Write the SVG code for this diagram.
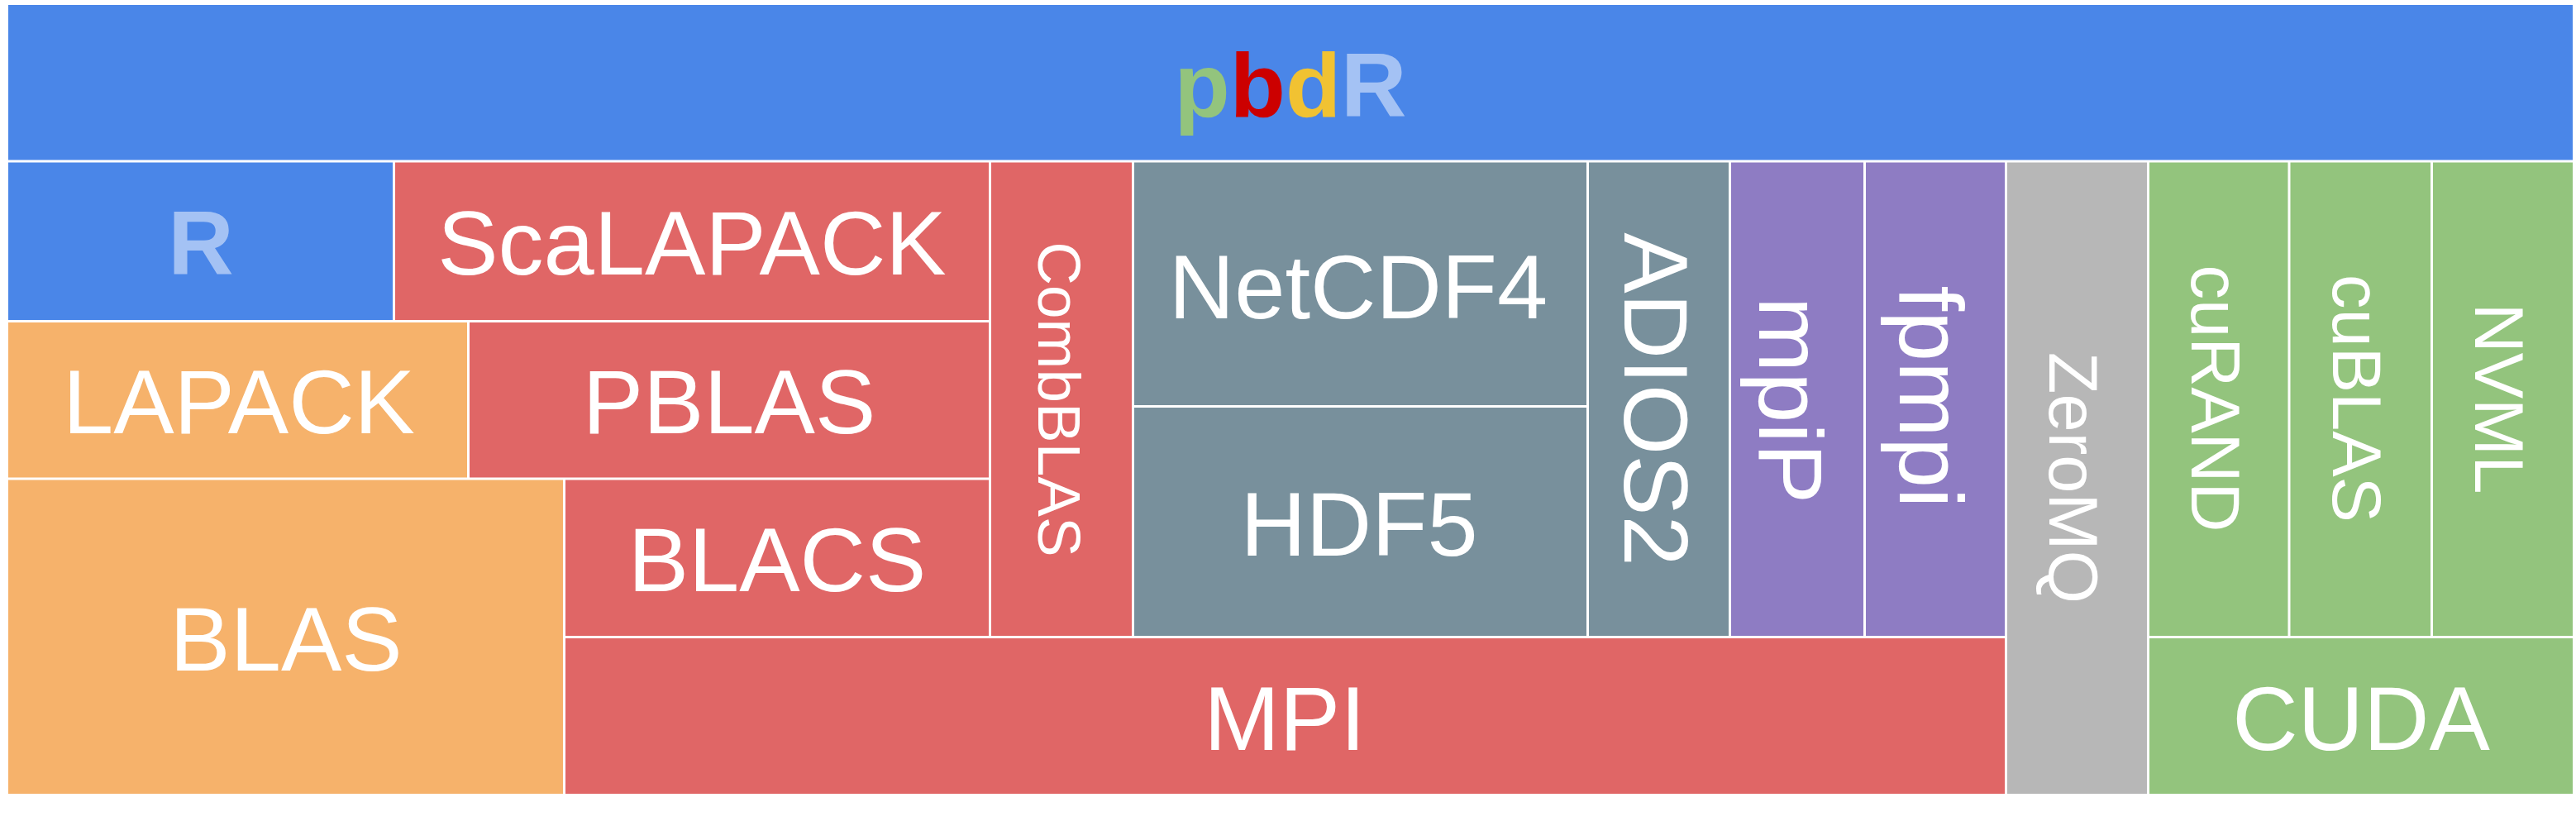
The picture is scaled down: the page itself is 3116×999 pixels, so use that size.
<svg xmlns="http://www.w3.org/2000/svg" width="3116" height="999" viewBox="0 0 3116 999">
<style>
  .blue{fill:#4A86E8}
  .red{fill:#E06666}
  .orange{fill:#F6B26B}
  .slate{fill:#78909C}
  .purple{fill:#8E7CC3}
  .gray{fill:#B7B7B7}
  .green{fill:#93C47D}
  text{font-family:"Liberation Sans",Arial,sans-serif;fill:#FFFFFF;text-anchor:middle}
  .big{font-size:110px}
  .bold{font-weight:bold}
</style>
<rect x="0" y="0" width="3116" height="999" fill="#FFFFFF"/>
<g id="pbdR">
  <rect class="blue" x="10" y="6" width="3102" height="187.5"/>
  <text class="big bold" x="1561" y="141"><tspan style="fill:#93C47D">p</tspan><tspan style="fill:#CC0000">b</tspan><tspan style="fill:#F1C232">d</tspan><tspan style="fill:#A4C2F4">R</tspan></text>
</g>
<g id="R">
  <rect class="blue" x="10" y="196.5" width="465" height="190.5"/>
  <text class="big bold" x="243" y="331.5" style="fill:#A4C2F4">R</text>
</g>
<g id="ScaLAPACK">
  <rect class="red" x="478" y="196.5" width="718" height="190.5"/>
  <text class="big" x="837" y="331.5">ScaLAPACK</text>
</g>
<g id="LAPACK">
  <rect class="orange" x="10" y="390" width="555" height="187.5"/>
  <text class="big" x="289" y="523.5">LAPACK</text>
</g>
<g id="PBLAS">
  <rect class="red" x="568" y="390" width="628" height="187.5"/>
  <text class="big" x="882" y="523.5">PBLAS</text>
</g>
<g id="BLAS">
  <rect class="orange" x="10" y="580.5" width="671" height="379.5"/>
  <text class="big" x="346" y="810.5">BLAS</text>
</g>
<g id="BLACS">
  <rect class="red" x="684" y="580.5" width="512" height="188.5"/>
  <text class="big" x="940" y="714.5">BLACS</text>
</g>
<g id="MPI">
  <rect class="red" x="684" y="772" width="1741" height="188"/>
  <text class="big" x="1554" y="906.5">MPI</text>
</g>
<g id="CombBLAS">
  <rect class="red" x="1199" y="196.5" width="170" height="572.5"/>
  <text x="0" y="28" font-size="73" transform="translate(1284,483) rotate(90)">CombBLAS</text>
</g>
<g id="NetCDF4">
  <rect class="slate" x="1372" y="196.5" width="547" height="293.5"/>
  <text class="big" x="1643" y="385">NetCDF4</text>
</g>
<g id="HDF5">
  <rect class="slate" x="1372" y="493" width="547" height="276"/>
  <text class="big" x="1644" y="671.5">HDF5</text>
</g>
<g id="ADIOS2">
  <rect class="slate" x="1922" y="196.5" width="169" height="572.5"/>
  <text class="big" x="0" y="42" transform="translate(2006.5,483) rotate(90)">ADIOS2</text>
</g>
<g id="mpiP">
  <rect class="purple" x="2094" y="196.5" width="160" height="572.5"/>
  <text class="big" x="0" y="46" transform="translate(2174,484) rotate(90)">mpiP</text>
</g>
<g id="fpmpi">
  <rect class="purple" x="2257" y="196.5" width="168" height="572.5"/>
  <text class="big" x="0" y="43" transform="translate(2341,480) rotate(90)">fpmpi</text>
</g>
<g id="ZeroMQ">
  <rect class="gray" x="2428" y="196.5" width="169" height="763.5"/>
  <text x="0" y="33.5" font-size="83" transform="translate(2512.5,578) rotate(90)">ZeroMQ</text>
</g>
<g id="cuRAND">
  <rect class="green" x="2600" y="196.5" width="167.5" height="572.5"/>
  <text x="0" y="33" font-size="83" transform="translate(2684,482) rotate(90)">cuRAND</text>
</g>
<g id="cuBLAS">
  <rect class="green" x="2770.5" y="196.5" width="169.5" height="572.5"/>
  <text x="0" y="33" font-size="83" transform="translate(2855,482) rotate(90)">cuBLAS</text>
</g>
<g id="NVML">
  <rect class="green" x="2943" y="196.5" width="169" height="572.5"/>
  <text x="0" y="33.5" font-size="83" transform="translate(3027.5,482) rotate(90)">NVML</text>
</g>
<g id="CUDA">
  <rect class="green" x="2600" y="772" width="512" height="188"/>
  <text class="big" x="2856" y="906.5">CUDA</text>
</g>
<g id="connectors"></g>
</svg>
